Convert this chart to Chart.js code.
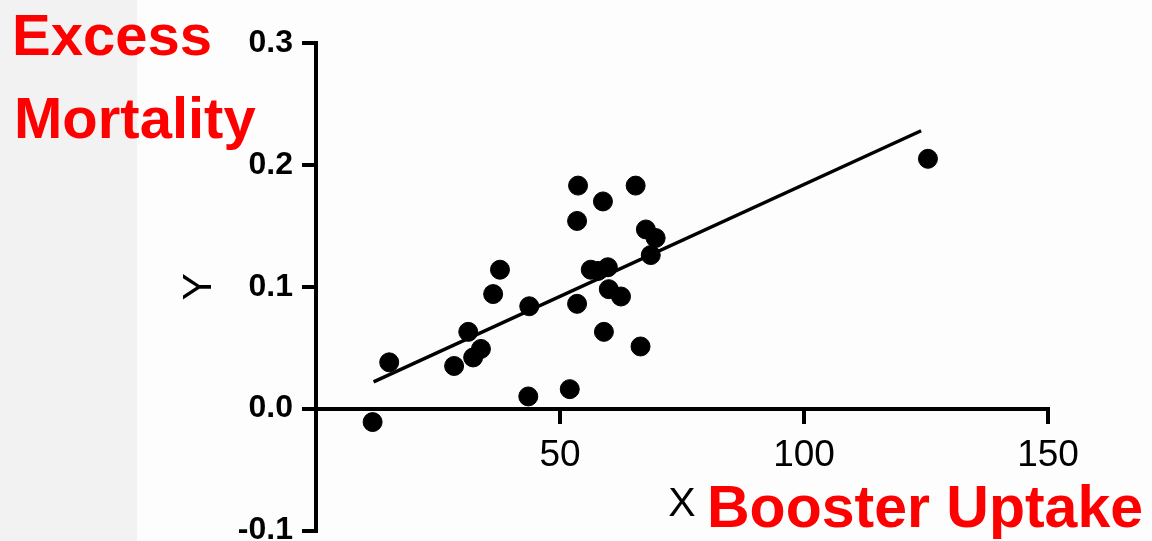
<!DOCTYPE html>
<html>
<head>
<meta charset="utf-8">
<script src="https://cdn.jsdelivr.net/npm/chart.js@4.4.1/dist/chart.umd.min.js"></script>
<style>
  html, body { margin: 0; padding: 0; }
  body {
    width: 1152px; height: 541px; overflow: hidden; position: relative;
    background: linear-gradient(to right, #f2f2f2 0, #f2f2f2 137px, #fdfdfd 137px);
    font-family: 'Liberation Sans', Arial, sans-serif;
  }
  #wrap { position: absolute; left: 0; top: 0; width: 1152px; height: 541px; }
  .red {
    position: absolute; color: #f00; font-weight: bold; font-size: 58px;
    line-height: 1; white-space: nowrap;
  }
</style>
</head>
<body>
<div id="wrap"><canvas id="scatterChart"></canvas></div>
<div class="red" style="left:12px; top:6px;">Excess</div>
<div class="red" style="left:14px; top:89px;">Mortality</div>
<div class="red" style="left:707px; top:478px; font-size:59px;">Booster Uptake</div>

<script>
// booster uptake (x) vs excess mortality (y)
const boosterX = [11.6, 15.0, 28.3, 31.2, 32.2, 33.8, 36.3, 37.7, 43.5, 43.7,
  52.0, 53.5, 53.5, 53.7, 56.3, 57.8, 58.8, 59.0, 59.8, 60.0,
  62.5, 65.5, 66.5, 67.6, 69.6, 68.6, 125.4];
const mortalityY = [-0.011, 0.038, 0.035, 0.063, 0.042, 0.049, 0.094, 0.114, 0.010, 0.084,
  0.016, 0.086, 0.154, 0.183, 0.114, 0.113, 0.170, 0.063, 0.116, 0.098,
  0.092, 0.183, 0.051, 0.147, 0.140, 0.126, 0.205];

// fitted line end points
const fitX = [11.8, 124.0];
const fitY = [0.022, 0.228];

const xTicks = [50, 100, 150];
const yTicks = [-0.1, 0.0, 0.1, 0.2, 0.3];

document.addEventListener('DOMContentLoaded', function() {
  const ctx = document.getElementById('scatterChart').getContext('2d');
  const points = boosterX.map((x, i) => ({ x: x, y: mortalityY[i] }));
  const fit = fitX.map((x, i) => ({ x: x, y: fitY[i] }));

  window.myChart = new Chart(ctx, {
    type: 'scatter',
    data: {
      datasets: [
        {
          label: 'Data',
          data: points,
          backgroundColor: '#000',
          borderColor: '#000',
          pointRadius: 9.5,
          pointHoverRadius: 9.5
        },
        {
          type: 'line',
          label: 'Fit',
          data: fit,
          borderColor: '#000',
          borderWidth: 3.5,
          pointRadius: 0,
          fill: false
        }
      ]
    },
    options: {
      responsive: true,
      maintainAspectRatio: false,
      animation: false,
      layout: { padding: { left: 171, right: 104, top: 43, bottom: 9 } },
      plugins: { legend: { display: false }, tooltip: { enabled: false } },
      scales: {
        x: {
          type: 'linear',
          position: { y: 0 },
          min: 0,
          max: 150,
          afterBuildTicks: s => { s.ticks = xTicks.map(v => ({ value: v })); },
          border: { display: true, color: '#000', width: 4 },
          grid: { display: true, drawOnChartArea: false, drawTicks: true, tickLength: 13, color: '#000', lineWidth: 4 },
          ticks: { color: '#000', padding: 12, font: { family: "'Liberation Sans', Arial", size: 37 } },
          title: { display: true, text: 'X', color: '#000', padding: { top: -10, bottom: 0 }, font: { family: "'Liberation Sans', Arial", size: 41 } }
        },
        y: {
          type: 'linear',
          min: -0.1,
          max: 0.3,
          afterFit: s => { s.width = 145; s.paddingTop = 0; s.paddingBottom = 0; },
          afterBuildTicks: s => { s.ticks = yTicks.map(v => ({ value: v })); },
          border: { display: true, color: '#000', width: 4 },
          grid: { display: true, drawOnChartArea: false, drawTicks: true, tickLength: 14, color: '#000', lineWidth: 4 },
          ticks: { color: '#000', padding: 9, callback: v => v.toFixed(1), font: { family: "'Liberation Sans', Arial", size: 32, weight: 'bold' } },
          title: { display: true, text: 'Y', color: '#000', font: { family: "'Liberation Sans', Arial", size: 41 } }
        }
      }
    }
  });
});
</script>
</body>
</html>
